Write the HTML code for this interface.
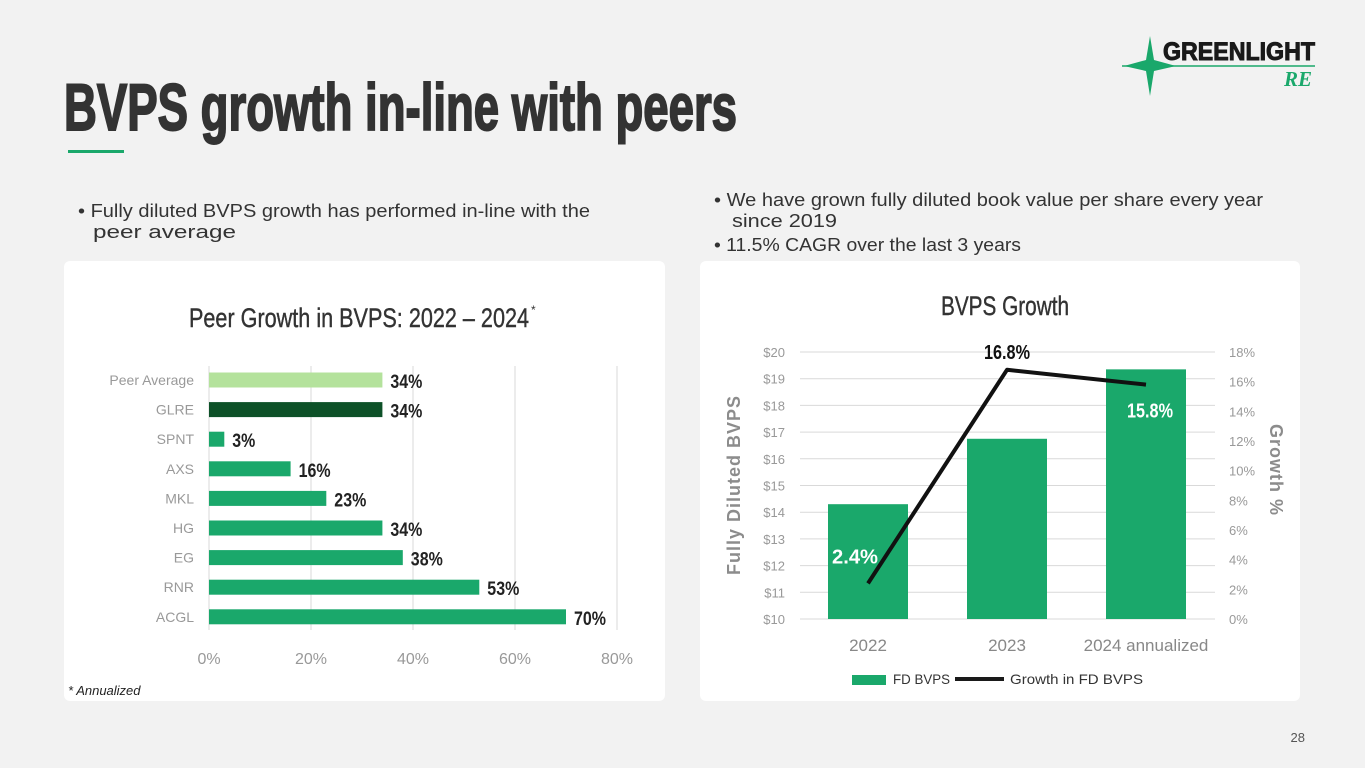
<!DOCTYPE html>
<html><head><meta charset="utf-8"><style>
html,body{margin:0;padding:0;background:#f2f2f2;}
svg{display:block;font-family:"Liberation Sans",sans-serif;}
</style></head><body>
<svg width="1365" height="768" viewBox="0 0 1365 768">
<rect width="1365" height="768" fill="#f2f2f2"/>
<g>
  <line x1="1122" y1="66" x2="1315" y2="66" stroke="#1aa86b" stroke-width="1.5"/>
  <polygon points="1150,36 1154,60 1176,66 1154,71 1150,96 1146,71 1124,66 1146,60" fill="#1aa86b"/>
  <text x="1163" y="60" font-size="25" font-weight="bold" fill="#1a1a1a" stroke="#1a1a1a" stroke-width="1" textLength="152" lengthAdjust="spacingAndGlyphs">GREENLIGHT</text>
  <text x="1284" y="86" font-size="21" font-weight="bold" font-style="italic" fill="#1aa86b" font-family="Liberation Serif,serif">RE</text>
</g>
<text x="64" y="130" font-size="66" font-weight="bold" fill="#333" stroke="#333" stroke-width="2" textLength="673" lengthAdjust="spacingAndGlyphs">BVPS growth in-line with peers</text>
<rect x="68" y="150" width="56" height="3" fill="#1aa86b"/>
<g font-size="18" fill="#333">
  <text x="78" y="217" textLength="512" lengthAdjust="spacingAndGlyphs">• Fully diluted BVPS growth has performed in-line with the</text>
  <text x="93" y="238" textLength="143" lengthAdjust="spacingAndGlyphs">peer average</text>
</g>
<g font-size="18" fill="#333">
  <text x="714" y="206" textLength="549" lengthAdjust="spacingAndGlyphs">• We have grown fully diluted book value per share every year</text>
  <text x="732" y="227" textLength="105" lengthAdjust="spacingAndGlyphs">since 2019</text>
  <text x="714" y="251" textLength="307" lengthAdjust="spacingAndGlyphs">• 11.5% CAGR over the last 3 years</text>
</g>
<rect x="64" y="261" width="601" height="440" rx="6" fill="#fff"/>
<rect x="700" y="261" width="600" height="440" rx="6" fill="#fff"/>
<text x="189" y="327" font-size="27" fill="#333" stroke="#333" stroke-width="0.4" textLength="340" lengthAdjust="spacingAndGlyphs">Peer Growth in BVPS: 2022 – 2024</text>
<text x="531" y="314" font-size="12" fill="#333">*</text>
<g id="peer"></g>
<text x="941" y="315" font-size="27" fill="#333" stroke="#333" stroke-width="0.4" textLength="128" lengthAdjust="spacingAndGlyphs">BVPS Growth</text>
<g id="bvps"></g>
<text transform="translate(740,485) rotate(-90)" text-anchor="middle" font-size="18" font-weight="bold" fill="#8c8c8c" letter-spacing="1">Fully Diluted BVPS</text>
<text transform="translate(1270,470) rotate(90)" text-anchor="middle" font-size="18" font-weight="bold" fill="#8c8c8c" letter-spacing="1">Growth %</text>
<g font-size="14" fill="#333">
  <rect x="852" y="675" width="34" height="10" fill="#1aa86b"/>
  <text x="893" y="684" textLength="57" lengthAdjust="spacingAndGlyphs">FD BVPS</text>
  <line x1="955" y1="679" x2="1004" y2="679" stroke="#1a1a1a" stroke-width="4"/>
  <text x="1010" y="684" textLength="133" lengthAdjust="spacingAndGlyphs">Growth in FD BVPS</text>
</g>
<text x="68" y="695" font-size="13" font-style="italic" fill="#222">* Annualized</text>
<text x="1305" y="742" font-size="13" fill="#555" text-anchor="end">28</text>
</svg>
<script>
const NS="http://www.w3.org/2000/svg";
function mk(tag,attrs,parent,txt){const e=document.createElementNS(NS,tag);for(const k in attrs)e.setAttribute(k,attrs[k]);if(txt!==undefined)e.textContent=txt;parent.appendChild(e);return e;}

// Peer chart data
const peerCategories=["Peer Average","GLRE","SPNT","AXS","MKL","HG","EG","RNR","ACGL"];
const peerValues=[34,34,3,16,23,34,38,53,70];
const peerTicks=[0,20,40,60,80];

const pg=document.getElementById('peer');
const px=v=>209+v*(408/80);
const rowY=i=>380+i*29.6;
peerTicks.forEach(t=>{
  const l=mk('line',{x1:px(t),x2:px(t),y1:366,y2:630,stroke:'#d9d9d9','stroke-width':1},pg);
  
  
  const tx=mk('text',{x:px(t),y:664,'text-anchor':'middle','font-size':16,fill:'#999'},pg,t+'%');
  
  
});
peerCategories.forEach((c,i)=>{
  const y=rowY(i);
  const col=i===0?'#b4e29c':(i===1?'#0d5128':'#1aa86b');
  const lb=mk('text',{x:194,y:y+5,'text-anchor':'end','font-size':14,fill:'#999'},pg,c);
  
  
  const r=mk('rect',{x:px(0),y:y-7.5,width:px(peerValues[i])-px(0),height:15,fill:col},pg);
  
  
  const v=mk('text',{x:px(peerValues[i])+8,y:y+8,'font-size':19,'font-weight':'bold',fill:'#222',textLength:String(peerValues[i]).length*9+14,lengthAdjust:'spacingAndGlyphs'},pg,peerValues[i]+'%');
  
  
});

// BVPS chart data
const bvpsCategories=["2022","2023","2024 annualized"];
const bvpsValues=[14.3,16.75,19.35];
const growthValues=[2.4,16.8,15.8];
const leftTicks=[10,11,12,13,14,15,16,17,18,19,20];
const rightTicks=[0,2,4,6,8,10,12,14,16,18];

const bg=document.getElementById('bvps');
const yL=v=>619-(v-10)*(267/10);
const yR=v=>619-v*(267/18);
const cx=i=>868+i*139;
leftTicks.forEach(t=>{
  const l=mk('line',{x1:800,x2:1215,y1:yL(t),y2:yL(t),stroke:'#d9d9d9','stroke-width':1},bg);
  
  
  const tx=mk('text',{x:785,y:yL(t)+5,'text-anchor':'end','font-size':13,fill:'#999'},bg,'$'+t);
  
  
});
rightTicks.forEach(t=>{
  const tx=mk('text',{x:1229,y:yR(t)+5,'font-size':13,fill:'#999'},bg,t+'%');
  
  
});
bvpsCategories.forEach((c,i)=>{
  const r=mk('rect',{x:cx(i)-40,y:yL(bvpsValues[i]),width:80,height:yL(10)-yL(bvpsValues[i]),fill:'#1aa86b'},bg);
  
  
  const tx=mk('text',{x:cx(i),y:651,'text-anchor':'middle','font-size':17,fill:'#888'},bg,c);
  
  
});
const pts=growthValues.map((v,i)=>cx(i)+','+yR(v)).join(' ');
const pl=mk('polyline',{points:pts,fill:'none',stroke:'#111','stroke-width':4,'stroke-linejoin':'round'},bg);


const offs=[[-13,-20,'#fff'],[0,-11,'#111'],[4,33,'#fff']];
growthValues.forEach((v,i)=>{
  const o=offs[i];
  const tx=mk('text',{x:cx(i)+o[0],y:yR(v)+o[1],'text-anchor':'middle','font-size':20,'font-weight':'bold',fill:o[2],textLength:46,lengthAdjust:'spacingAndGlyphs'},bg,v.toFixed(1)+'%');
  
  
});
</script>
</body></html>
